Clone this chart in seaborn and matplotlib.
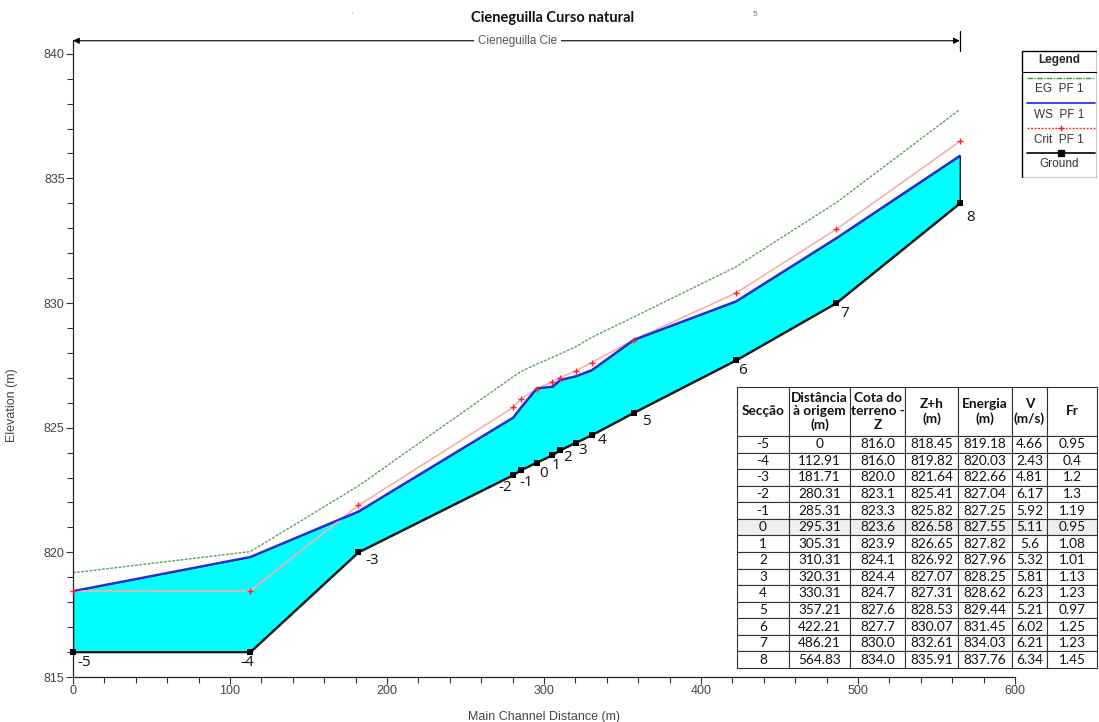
import pandas as pd
import matplotlib
matplotlib.use("Agg")
import matplotlib.pyplot as plt
import seaborn as sns
from matplotlib.ticker import MultipleLocator
from matplotlib.patches import Rectangle

# dados das secções
seccao = [-5, -4, -3, -2, -1, 0, 1, 2, 3, 4, 5, 6, 7, 8]
distancia = [0, 112.91, 181.71, 280.31, 285.31, 295.31, 305.31, 310.31,
             320.31, 330.31, 357.21, 422.21, 486.21, 564.83]
ground = [816.0, 816.0, 820.0, 823.1, 823.3, 823.6, 823.9, 824.1,
          824.4, 824.7, 825.6, 827.7, 830.0, 834.0]
ws = [818.45, 819.82, 821.64, 825.41, 825.82, 826.58, 826.65, 826.92,
      827.07, 827.31, 828.53, 830.07, 832.61, 835.91]
eg = [819.18, 820.03, 822.66, 827.04, 827.25, 827.55, 827.82, 827.96,
      828.25, 828.62, 829.44, 831.45, 834.03, 837.76]
crit = [818.45, 818.45, 821.88, 825.81, 826.15, 826.55, 826.84, 827.01,
        827.28, 827.61, 828.52, 830.40, 832.96, 836.48]
velocidade = [4.66, 2.43, 4.81, 6.17, 5.92, 5.11, 5.6, 5.32, 5.81, 6.23,
              5.21, 6.02, 6.21, 6.34]
froude = [0.95, 0.4, 1.2, 1.3, 1.19, 0.95, 1.08, 1.01, 1.13, 1.23, 0.97,
          1.25, 1.23, 1.45]
cota_tabela = [816.0, 816.0, 820.0, 823.1, 823.3, 823.6, 823.9, 824.1,
               824.4, 824.7, 827.6, 827.7, 830.0, 834.0]

# deslocamento dos rótulos (pixels)
rot_dx = [11, -3, 14, -8, 5, 7, 4, 7, 7, 10, 13, 7, 8, 11]
rot_dy = [-10, -10, -8, -12, -12, -11, -10, -7, -8, -5, -9, -10, -10, -14]

df = pd.DataFrame({"dist": distancia, "ground": ground, "ws": ws,
                   "eg": eg, "crit": crit})

sns.set_style("ticks")
plt.rcParams["font.family"] = ["Liberation Sans", "DejaVu Sans"]

fig = plt.figure(figsize=(10.99, 7.22), dpi=100)
ax = fig.add_axes([73 / 1099, 45 / 722, 942 / 1099, 637 / 722])

ax.fill_between(df["dist"], df["ground"], df["ws"], facecolor="#00ffff",
                edgecolor="#1a1a1a", linewidth=1.0, zorder=1)
sns.lineplot(data=df, x="dist", y="eg", sort=False, color="#5f9f5f",
             linewidth=1.0, linestyle=(0, (2, 1)), ax=ax, zorder=2)
sns.lineplot(data=df, x="dist", y="crit", sort=False, color="#f4b0b0",
             linewidth=1.2, ax=ax, zorder=2)
ax.plot(df["dist"], df["crit"], linestyle="none", marker="+", color="#ff2020",
        markersize=5, mew=1.0, zorder=4, clip_on=False)
sns.lineplot(data=df, x="dist", y="ws", sort=False, color="#2b2be6",
             linewidth=1.5, ax=ax, zorder=3)
sns.lineplot(data=df, x="dist", y="ground", sort=False, color="#1a1a1a",
             linewidth=1.5, ax=ax, zorder=3)
sns.scatterplot(data=df, x="dist", y="ground", marker="s", color="black",
                s=22, edgecolor="black", linewidth=0, ax=ax, zorder=5,
                clip_on=False)

for s, x, y, dx, dy in zip(seccao, distancia, ground, rot_dx, rot_dy):
    ax.annotate(str(s), (x, y), xytext=(dx, dy), textcoords="offset pixels",
                ha="center", va="center", fontsize=11, color="#111111",
                family=["Open Sans", "DejaVu Sans"])

ax.set_xlim(0, 600)
ax.set_ylim(815, 840.55)
ax.xaxis.set_major_locator(MultipleLocator(100))
ax.xaxis.set_minor_locator(MultipleLocator(20))
ax.yaxis.set_major_locator(MultipleLocator(5))
ax.yaxis.set_minor_locator(MultipleLocator(1))
ax.set_yticks([815, 820, 825, 830, 835, 840])
ax.tick_params(which="major", length=5, width=0.8, colors="#333333",
               labelsize=9, labelcolor="#444444", pad=1)
ax.tick_params(which="minor", length=4, width=0.8, colors="#333333")
for sp in ["top", "right"]:
    ax.spines[sp].set_visible(False)
for sp in ["left", "bottom"]:
    ax.spines[sp].set_color("#222222")
    ax.spines[sp].set_linewidth(0.9)

ax.set_xlabel("Main Channel Distance (m)", fontsize=9, color="#444444")
ax.set_ylabel("Elevation (m)", fontsize=9, color="#444444")
ax.xaxis.set_label_coords(0.5, -0.054)
ax.yaxis.set_label_coords(-0.058, 0.427)

# linha do troço no topo
y_top = 840.52
ax.annotate("", xy=(0, y_top), xytext=(distancia[-1], y_top),
            arrowprops=dict(arrowstyle="<|-|>", color="black", lw=0.8,
                            mutation_scale=9, shrinkA=0, shrinkB=0),
            annotation_clip=False)
ax.plot([distancia[-1], distancia[-1]], [840.12, 840.92], color="black",
        lw=0.9, clip_on=False)
ax.text(283, y_top, "Cieneguilla Cie", ha="center", va="center",
        fontsize=8.5, color="#555555",
        bbox=dict(facecolor="white", edgecolor="none", pad=3))

fig.text(553 / 1099, 1 - 18 / 722, "Cieneguilla Curso natural",
         ha="center", va="center", fontsize=10.5, fontweight="bold",
         family=["Lato", "DejaVu Sans"], color="#111111")
fig.text(352 / 1099, 1 - 15 / 722, "'", ha="center", va="center",
         fontsize=6, color="#999999")
fig.text(755 / 1099, 1 - 15 / 722, "5", ha="center", va="center",
         fontsize=6, color="#777777")

# legenda
lg = fig.add_axes([1021 / 1099, 1 - 178 / 722, 76 / 1099, 128 / 722])
lg.set_xlim(1021, 1097)
lg.set_ylim(178, 50)
lg.axis("off")
lg.add_patch(Rectangle((1021.5, 50.5), 75, 127, fill=False,
                       edgecolor="black", lw=1.0))
lg.plot([1021.5, 1096.5], [71.5, 71.5], color="black", lw=0.8)
lg.text(1059, 60, "Legend", ha="center", va="center", fontsize=8.5,
        fontweight="bold")
lg.plot([1027, 1095], [78, 78], color="#3a9a3a", lw=1.0,
        linestyle=(0, (4, 1, 1, 1)))
lg.text(1059, 89, "EG  PF 1", ha="center", va="center", fontsize=8.5,
        color="#333333")
lg.plot([1027, 1095], [103, 103], color="#2020ff", lw=1.2)
lg.text(1059, 115, "WS  PF 1", ha="center", va="center", fontsize=8.5,
        color="#333333")
lg.plot([1027, 1095], [128, 128], color="#ff3030", lw=1.0,
        linestyle=(0, (1.5, 1)))
lg.plot([1061], [128], marker="+", color="#ff2020", markersize=5, mew=1.0)
lg.text(1059, 140, "Crit  PF 1", ha="center", va="center", fontsize=8.5,
        color="#333333")
lg.plot([1027, 1095], [153, 153], color="black", lw=1.2)
lg.plot([1061], [153], marker="s", color="black", markersize=4)
lg.text(1059, 164, "Ground", ha="center", va="center", fontsize=8.5,
        color="#333333")

# tabela
cabecalho = ["Secção", "Distância\nà origem\n(m)", "Cota do\nterreno -\nZ",
             "Z+h\n(m)", "Energia\n(m)", "V\n(m/s)", "Fr"]
linhas = []
for i in range(len(seccao)):
    linhas.append([str(seccao[i]), f"{distancia[i]:g}", f"{cota_tabela[i]:.1f}",
                   f"{ws[i]:.2f}", f"{eg[i]:.2f}", f"{velocidade[i]:g}",
                   f"{froude[i]:g}"])

larguras = [52, 61, 55, 53, 54, 35, 50]
tab_ax = fig.add_axes([737 / 1099, 1 - 668 / 722, 360 / 1099, 281 / 722])
tab_ax.axis("off")
tab = tab_ax.table(cellText=linhas, colLabels=cabecalho,
                   colWidths=[w / 360 for w in larguras],
                   cellLoc="center", bbox=[0, 0, 1, 1])
tab.auto_set_font_size(False)
h_cab = 49 / 281
h_lin = (1 - h_cab) / len(seccao)
for (r, c), cell in tab.get_celld().items():
    cell.set_edgecolor("#333333")
    cell.set_linewidth(0.8)
    cell.PAD = 0.02
    if r == 0:
        cell.set_height(h_cab)
        cell.get_text().set_fontweight("bold")
        cell.get_text().set_linespacing(1.15)
    else:
        cell.set_height(h_lin)
    cell.get_text().set_fontsize(9.8)
    cell.get_text().set_family(["Lato", "DejaVu Sans"])
    cell.get_text().set_color("#111111")
    if r == 6:
        cell.set_facecolor("#efefef")

fig.savefig("out.png", dpi=100)
